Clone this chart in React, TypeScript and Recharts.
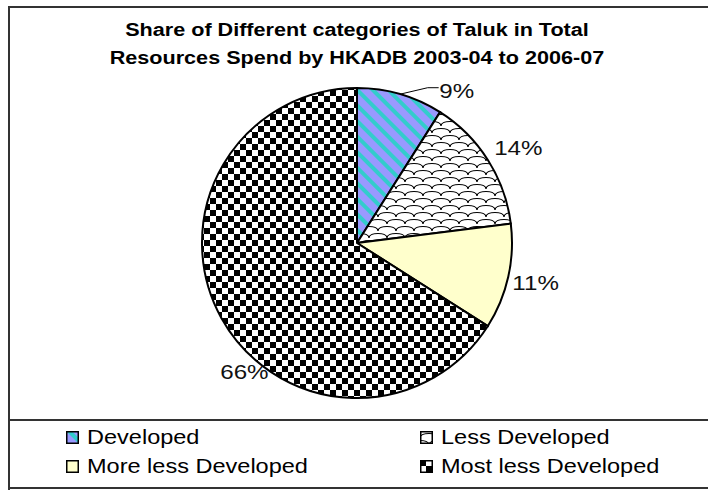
import React from 'react';
import { PieChart, Pie, Cell, Legend } from 'recharts';

const categories = ['Developed', 'Less Developed', 'More less Developed', 'Most less Developed'];
const shares = [9, 14, 11, 66];
const titleLines = [
  'Share of Different categories of Taluk in Total',
  'Resources Spend by HKADB 2003-04 to 2006-07',
];

const fills = ['url(#stripes)', 'url(#scales)', '#FFFFCC', 'url(#checker)'];
// label nudges (clockwise degrees, px outside the rim), like Excel's best fit
const labelShift = [17, 2, 0, -20];
const labelGap = [27, 32, 28, 16];

const FONT = '"Liberation Sans", Arial, sans-serif';

const data = categories.map((name, i) => ({ name, value: shares[i] }));

const Patterns = () => (
  <svg width={0} height={0} style={{ position: 'absolute' }}>
    <defs>
      <pattern id="stripes" width={11} height={11} patternUnits="userSpaceOnUse" patternTransform="rotate(-45)">
        <rect width={11} height={11} fill="#9999FF" />
        <rect width={4} height={11} fill="#33CCCC" />
      </pattern>
      <pattern id="scales" width={18} height={14} patternUnits="userSpaceOnUse">
        <rect width={18} height={14} fill="#fff" />
        <path
          d="M0 7 C0 1 18 1 18 7 M-9 14 C-9 8 9 8 9 14 M9 14 C9 8 27 8 27 14"
          fill="none"
          stroke="#000"
          strokeWidth={1.2}
        />
      </pattern>
      <pattern id="checker" width={12} height={12} patternUnits="userSpaceOnUse">
        <rect width={12} height={12} fill="#fff" />
        <rect width={6} height={6} fill="#000" />
        <rect x={6} y={6} width={6} height={6} fill="#000" />
      </pattern>
    </defs>
  </svg>
);

const RADIAN = Math.PI / 180;

const renderLabel = (props: any) => {
  const { cx, cy, midAngle, outerRadius, index, value } = props;
  const a = (midAngle - labelShift[index]) * RADIAN;
  const r = outerRadius + labelGap[index];
  const x = cx + r * Math.cos(a);
  const y = cy - r * Math.sin(a);
  let leader = null;
  if (index === 0) {
    const ex = cx + outerRadius * Math.cos(midAngle * RADIAN);
    const ey = cy - outerRadius * Math.sin(midAngle * RADIAN);
    leader = (
      <polyline
        points={`${ex},${ey} ${x - 29},${y - 3} ${x - 18},${y - 3}`}
        fill="none"
        stroke="#000"
        strokeWidth={1}
      />
    );
  }
  return (
    <g key={`lbl-${index}`}>
      {leader}
      <text
        transform={`translate(${x},${y}) scale(1.15,1)`}
        textAnchor="middle"
        dominantBaseline="central"
        fontSize={21}
        fontFamily={FONT}
        fill="#111"
      >
        {`${value}%`}
      </text>
    </g>
  );
};

const LegendBox = () => (
  <div
    style={{
      display: 'grid',
      gridTemplateColumns: '354px 300px',
      rowGap: 7,
      paddingLeft: 66,
      fontFamily: FONT,
      fontSize: 21,
      color: '#000',
    }}
  >
    {[0, 1, 2, 3].map((i) => (
      <div key={categories[i]} style={{ display: 'flex', alignItems: 'center', height: 22 }}>
        <svg width={13} height={13} style={{ marginRight: 8 }}>
          <rect x={0.75} y={0.75} width={11.5} height={11.5} fill={fills[i]} stroke="#000" strokeWidth={1.5} />
        </svg>
        <span style={{ display: 'inline-block', transform: 'scaleX(1.12)', transformOrigin: 'left center', whiteSpace: 'nowrap' }}>
          {categories[i]}
        </span>
      </div>
    ))}
  </div>
);

const line = (left: number, top: number, width: number, height: number) => ({
  position: 'absolute' as const,
  left,
  top,
  width,
  height,
  background: '#333',
});

export default function App() {
  return (
    <div style={{ position: 'absolute', left: 0, top: 0, width: 708, height: 490, background: '#fff', overflow: 'hidden' }}>
      <Patterns />
      <div style={line(8, 6, 700, 2)} />
      <div style={line(8, 6, 2, 484)} />
      <div style={line(8, 419, 700, 2)} />
      <div style={line(8, 487, 700, 2)} />
      <div
        style={{
          position: 'absolute',
          left: 0,
          width: 714,
          top: 16,
          textAlign: 'center',
          fontFamily: FONT,
          fontWeight: 'bold',
          fontSize: 18,
          lineHeight: '28px',
          color: '#000',
          transform: 'scaleX(1.2)',
          transformOrigin: '357px 0',
        }}
      >
        {titleLines.map((t) => (
          <div key={t}>{t}</div>
        ))}
      </div>
      <div style={{ position: 'absolute', left: 0, top: 0 }}>
        <PieChart width={708} height={490} margin={{ top: 0, right: 0, bottom: 0, left: 0 }}>
          <Pie
            data={data}
            dataKey="value"
            nameKey="name"
            cx={357}
            cy={243}
            outerRadius={155}
            startAngle={90}
            endAngle={-270}
            stroke="#000"
            strokeWidth={2}
            label={renderLabel}
            labelLine={false}
            isAnimationActive={false}
          >
            {data.map((d, i) => (
              <Cell key={d.name} fill={fills[i]} />
            ))}
          </Pie>
          <Legend
            layout="horizontal"
            verticalAlign="bottom"
            wrapperStyle={{ position: 'absolute', left: 0, top: 426, bottom: 'auto', width: 708 }}
            content={() => <LegendBox />}
          />
        </PieChart>
      </div>
    </div>
  );
}
